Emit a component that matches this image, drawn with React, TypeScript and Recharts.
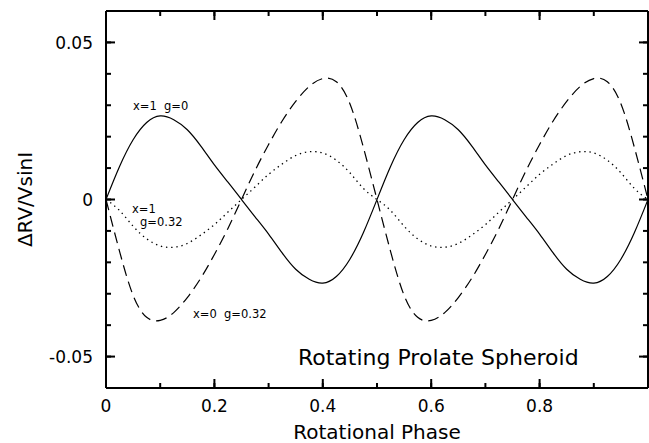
import { LineChart, Line, XAxis, YAxis, ReferenceDot, ReferenceLine } from "recharts"

// rotational phase samples and the three RV anomaly curves
const phase = [
  0, 0.025, 0.05, 0.075, 0.1, 0.125, 0.15, 0.175, 0.2, 0.225, 0.25, 0.275, 0.3, 0.325, 0.35, 0.375, 0.4, 0.425, 0.45,
  0.475, 0.5, 0.525, 0.55, 0.575, 0.6, 0.625, 0.65, 0.675, 0.7, 0.725, 0.75, 0.775, 0.8, 0.825, 0.85, 0.875, 0.9, 0.925,
  0.95, 0.975, 1,
]

// x=1 g=0 (solid)
const solid = [
  0, 0.0105, 0.019, 0.0245, 0.0266, 0.0254, 0.0222, 0.017, 0.011, 0.0055, 0,
  -0.0055, -0.011, -0.017, -0.0222, -0.0254, -0.0266, -0.0245, -0.019, -0.0105, 0,
  0.0105, 0.019, 0.0245, 0.0266, 0.0254, 0.0222, 0.017, 0.011, 0.0055, 0,
  -0.0055, -0.011, -0.017, -0.0222, -0.0254, -0.0266, -0.0245, -0.019, -0.0105, 0,
]

// x=0 g=0.32 (dashed)
const dashed = [
  0, -0.0165, -0.0305, -0.0375, -0.0385, -0.036, -0.0312, -0.025, -0.0175, -0.0092, 0,
  0.0092, 0.0175, 0.025, 0.0312, 0.036, 0.0385, 0.0375, 0.0305, 0.0165, 0,
  -0.0165, -0.0305, -0.0375, -0.0385, -0.036, -0.0312, -0.025, -0.0175, -0.0092, 0,
  0.0092, 0.0175, 0.025, 0.0312, 0.036, 0.0385, 0.0375, 0.0305, 0.0165, 0,
]

// x=1 g=0.32 (dotted)
const dotted = [
  0, -0.0035, -0.0085, -0.0125, -0.0148, -0.0152, -0.014, -0.0113, -0.008, -0.004, 0,
  0.004, 0.008, 0.0113, 0.014, 0.0152, 0.0148, 0.0125, 0.0085, 0.0035, 0,
  -0.0035, -0.0085, -0.0125, -0.0148, -0.0152, -0.014, -0.0113, -0.008, -0.004, 0,
  0.004, 0.008, 0.0113, 0.014, 0.0152, 0.0148, 0.0125, 0.0085, 0.0035, 0,
]

const xTicks = [0, 0.1, 0.2, 0.3, 0.4, 0.5, 0.6, 0.7, 0.8, 0.9, 1]
const xMajor = [0, 0.2, 0.4, 0.6, 0.8, 1]
const xLabels = [0, 0.2, 0.4, 0.6, 0.8]
const yTicks = [-0.06, -0.05, -0.04, -0.03, -0.02, -0.01, 0, 0.01, 0.02, 0.03, 0.04, 0.05, 0.06]
const yMajor = [-0.05, 0, 0.05]
const yLabels = [-0.05, 0, 0.05]

const notes = [
  { x: 0.0498, y: 0.0286, text: "x=1  g=0", size: 11.5 },
  { x: 0.048, y: -0.0044, text: "x=1", size: 11.5 },
  { x: 0.0627, y: -0.0083, text: "g=0.32", size: 11.5 },
  { x: 0.1605, y: -0.0376, text: "x=0  g=0.32", size: 11.5 },
  { x: 0.3542, y: -0.0526, text: "Rotating Prolate Spheroid", size: 22 },
]

const data = phase.map((p, i) => ({ phase: p, solid: solid[i], dashed: dashed[i], dotted: dotted[i] }))

const FONT = "DejaVu Sans"
const INK = "#000"
const TOP = 3000
const has = (list: number[], v: number) => list.some((m) => Math.abs(m - v) < 1e-9)
const fmt = (v: number) => (Math.abs(v) < 1e-9 ? "0" : String(v))

// every tick gets the short inward library tick line; majors are lengthened here
const tickStyle = { stroke: INK, strokeWidth: 2, fill: "none" }

const bottomTick = (p: any) => {
  const v = p.payload.value
  return (
    <g>
      {has(xMajor, v) && <path d={`M${p.x},${p.y}V${p.y - 9}`} {...tickStyle} />}
      {has(xLabels, v) && (
        <text x={p.x} y={p.y + 24} textAnchor="middle" fontFamily={FONT} fontSize={17} fill={INK}>
          {fmt(v)}
        </text>
      )}
    </g>
  )
}

const topTick = (p: any) =>
  has(xMajor, p.payload.value) ? <path d={`M${p.x},${p.y}V${p.y + 9}`} {...tickStyle} /> : <g />

const leftTick = (p: any) => {
  const v = p.payload.value
  return (
    <g>
      {has(yMajor, v) && <path d={`M${p.x},${p.y}H${p.x + 9}`} {...tickStyle} />}
      {has(yLabels, v) && (
        <text x={p.x - 13} y={p.y} dy="0.36em" textAnchor="end" fontFamily={FONT} fontSize={17} fill={INK}>
          {fmt(v)}
        </text>
      )}
    </g>
  )
}

const rightTick = (p: any) =>
  has(yMajor, p.payload.value) ? <path d={`M${p.x},${p.y}H${p.x - 9}`} {...tickStyle} /> : <g />

const frame = { stroke: INK, strokeWidth: 2 }

export default function App() {
  return (
    <div style={{ position: "absolute", left: 0, top: 0, width: 649, height: 443, background: "#fff" }}>
      <LineChart width={649} height={443} data={data} margin={{ top: 0, right: 0, bottom: 0, left: 0 }}>
        <Line
          xAxisId="top"
          yAxisId="right"
          dataKey="solid"
          stroke={INK}
          strokeOpacity={0}
          dot={false}
          activeDot={false}
          isAnimationActive={false}
        />
        <Line
          type="natural"
          dataKey="solid"
          stroke={INK}
          strokeWidth={1.2}
          dot={false}
          activeDot={false}
          isAnimationActive={false}
        />
        <Line
          type="natural"
          dataKey="dashed"
          stroke={INK}
          strokeWidth={1.2}
          strokeDasharray="11 6"
          dot={false}
          activeDot={false}
          isAnimationActive={false}
        />
        <Line
          type="natural"
          dataKey="dotted"
          stroke={INK}
          strokeWidth={1.3}
          strokeDasharray="1.4 3.8"
          dot={false}
          activeDot={false}
          isAnimationActive={false}
        />
        <XAxis
          dataKey="phase"
          type="number"
          domain={[0, 1]}
          ticks={xTicks}
          interval={0}
          height={55}
          tickSize={-5}
          tickMargin={5}
          tickLine={frame}
          axisLine={frame}
          tick={bottomTick}
          zIndex={TOP}
          label={{
            content: ({ viewBox }: any) => (
              <text
                x={viewBox.x + viewBox.width / 2}
                y={viewBox.y + 51}
                textAnchor="middle"
                fontFamily={FONT}
                fontSize={20}
                fill={INK}
              >
                Rotational Phase
              </text>
            ),
          }}
        />
        <XAxis
          xAxisId="top"
          orientation="top"
          dataKey="phase"
          type="number"
          domain={[0, 1]}
          ticks={xTicks}
          interval={0}
          height={11}
          tickSize={-5}
          tickMargin={5}
          tickLine={frame}
          axisLine={frame}
          tick={topTick}
          zIndex={TOP}
        />
        <YAxis
          type="number"
          domain={[-0.06, 0.06]}
          ticks={yTicks}
          interval={0}
          width={106}
          tickSize={-5}
          tickMargin={5}
          tickLine={frame}
          axisLine={frame}
          tick={leftTick}
          zIndex={TOP}
          label={{
            content: ({ viewBox }: any) => {
              const cx = 31.5
              const cy = viewBox.y + viewBox.height / 2
              return (
                <text
                  x={cx}
                  y={cy}
                  transform={`rotate(-90 ${cx} ${cy})`}
                  textAnchor="middle"
                  fontFamily={FONT}
                  fontSize={20}
                  fill={INK}
                >
                  ΔRV/VsinI
                </text>
              )
            },
          }}
        />
        <YAxis
          yAxisId="right"
          orientation="right"
          type="number"
          domain={[-0.06, 0.06]}
          ticks={yTicks}
          interval={0}
          width={1}
          tickSize={-5}
          tickMargin={5}
          tickLine={frame}
          axisLine={frame}
          tick={rightTick}
          zIndex={TOP}
        />
        {/* frame edges at the top and right of the plot */}
        <ReferenceLine y={0.06} stroke={INK} strokeWidth={2} zIndex={TOP} />
        <ReferenceLine x={1} stroke={INK} strokeWidth={2} zIndex={TOP} />
        {notes.map((n) => (
          <ReferenceDot
            key={n.text}
            x={n.x}
            y={n.y}
            r={0}
            shape={(p: any) => (
              <text
                x={p.cx}
                y={p.cy}
                fontFamily={FONT}
                fontSize={n.size}
                fill={INK}
                style={{ whiteSpace: "pre" }}
              >
                {n.text}
              </text>
            )}
          />
        ))}
      </LineChart>
    </div>
  )
}
